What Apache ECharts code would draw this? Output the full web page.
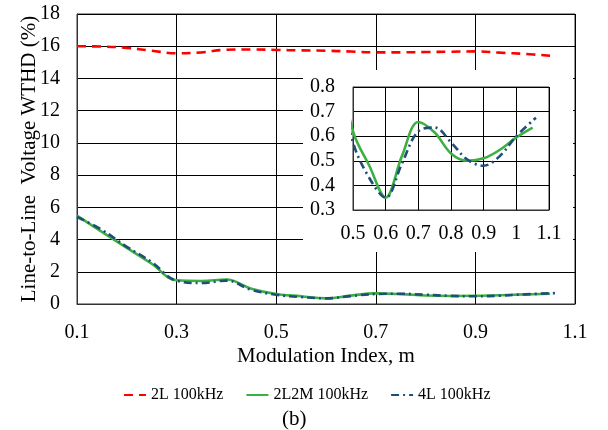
<!DOCTYPE html>
<html>
<head>
<meta charset="utf-8">
<script src="https://cdn.jsdelivr.net/npm/echarts@6/dist/echarts.min.js"></script>
<style>
  html, body { margin: 0; padding: 0; background: #fff; }
  #chart { width: 608px; height: 430px; }
</style>
</head>
<body>
<div id="chart"></div>
<script>
// Modulation index samples
const mIndex = [0.1, 0.15, 0.2, 0.25, 0.3, 0.35, 0.4, 0.45, 0.5, 0.55,
                0.6, 0.65, 0.7, 0.75, 0.8, 0.85, 0.9, 0.95, 1.0, 1.05];
const mIndex4L = [0.1, 0.15, 0.2, 0.25, 0.3, 0.35, 0.4, 0.45, 0.5, 0.55,
                  0.6, 0.65, 0.7, 0.75, 0.8, 0.85, 0.9, 0.95, 1.0, 1.06];

// Line-to-line voltage WTHD (%)
const wthd2L = [16.0, 15.98, 15.9, 15.72, 15.56, 15.62, 15.78, 15.8, 15.77, 15.74,
                15.72, 15.67, 15.62, 15.62, 15.64, 15.66, 15.68, 15.6, 15.52, 15.41];
const wthd2L2M = [5.48, 4.48, 3.48, 2.5, 1.47, 1.43, 1.52, 0.95, 0.62, 0.48,
                  0.35, 0.52, 0.658, 0.615, 0.53, 0.5, 0.51, 0.545, 0.595, 0.635];
const wthd4L = [5.4, 4.6, 3.55, 2.6, 1.45, 1.3, 1.45, 0.88, 0.575, 0.43,
                0.35, 0.49, 0.62, 0.635, 0.575, 0.505, 0.48, 0.52, 0.60, 0.675];

const seriesNames = ['2L 100kHz', '2L2M 100kHz', '4L 100kHz'];
const seriesColors = ['#ff0000', '#3cb043', '#1f4e79'];

// Axis settings
const mainXTicks = { min: 0.1, max: 1.1, interval: 0.2 };
const mainYTicks = { min: 0, max: 18, interval: 2 };
const insetXTicks = { min: 0.5, max: 1.1, interval: 0.1 };
const insetYTicks = { min: 0.3, max: 0.8, interval: 0.1 };

const FONT = "'Liberation Serif', 'Times New Roman', serif";
const pairs = (xs, ys) => xs.map((x, i) => [x, ys[i]]);
const fmt1 = v => String(+(+v).toFixed(1));

const lineStyles = [
  { color: seriesColors[0], width: 2.6, type: [9, 6] },
  { color: seriesColors[1], width: 2.6, type: 'solid' },
  { color: seriesColors[2], width: 2.6, type: [8, 4, 2, 4] }
];
const dataSets = [pairs(mIndex, wthd2L), pairs(mIndex, wthd2L2M), pairs(mIndex4L, wthd4L)];

const series = [];
dataSets.forEach((d, i) => {
  series.push({
    name: seriesNames[i], type: 'line', xAxisIndex: 0, yAxisIndex: 0,
    data: d, smooth: 0.4, symbol: 'none', lineStyle: lineStyles[i],
    itemStyle: { color: seriesColors[i] }, z: 3
  });
});
// Inset: zoomed view of the multilevel curves
[1, 2].forEach(i => {
  series.push({
    name: seriesNames[i], type: 'line', xAxisIndex: 1, yAxisIndex: 1,
    data: dataSets[i], smooth: 0.35, symbol: 'none', lineStyle: lineStyles[i],
    itemStyle: { color: seriesColors[i] }, z: 12, clip: true
  });
});

const axisLabel = { color: '#000', fontFamily: FONT, fontSize: 20 };
const split = { show: true, lineStyle: { color: '#000', width: 1 } };

const chart = echarts.init(document.getElementById('chart'), null, { renderer: 'canvas' });
chart.setOption({
  animation: false,
  backgroundColor: '#fff',
  grid: [
    { left: 77, top: 14, width: 498, height: 290, show: true, borderColor: '#333', borderWidth: 1, containLabel: false },
    { left: 353, top: 87, width: 196, height: 123, show: true, borderColor: '#333', borderWidth: 1, z: 10, containLabel: false }
  ],
  xAxis: [
    {
      type: 'value', gridIndex: 0, ...mainXTicks,
      axisLine: { show: true, lineStyle: { color: '#333' } }, axisTick: { show: false },
      axisLabel: { ...axisLabel, margin: 19, formatter: fmt1 }, splitLine: split,
      name: 'Modulation Index, m', nameLocation: 'middle', nameGap: 42, nameMoveOverlap: false,
      nameTextStyle: { color: '#000', fontFamily: FONT, fontSize: 21 }
    },
    {
      type: 'value', gridIndex: 1, ...insetXTicks, z: 10,
      axisLine: { show: true, lineStyle: { color: '#333' } }, axisTick: { show: false },
      axisLabel: { ...axisLabel, margin: 14, formatter: fmt1 }, splitLine: split
    }
  ],
  yAxis: [
    {
      type: 'value', gridIndex: 0, ...mainYTicks,
      axisLine: { show: true, lineStyle: { color: '#333' } }, axisTick: { show: false },
      axisLabel: { ...axisLabel, margin: 17 }, splitLine: split,
      name: 'Line-to-Line  Voltage WTHD (%)', nameLocation: 'middle', nameGap: 37, nameMoveOverlap: false,
      nameTextStyle: { color: '#000', fontFamily: FONT, fontSize: 21 }
    },
    {
      type: 'value', gridIndex: 1, ...insetYTicks, z: 10,
      axisLine: { show: true, lineStyle: { color: '#333' } }, axisTick: { show: false },
      axisLabel: { ...axisLabel, margin: 18, formatter: fmt1 }, splitLine: split
    }
  ],
  legend: {
    data: seriesNames,
    left: 118, top: 382,
    itemWidth: 22, itemHeight: 10, itemGap: 22,
    itemStyle: { opacity: 0 },
    textStyle: { color: '#000', fontFamily: FONT, fontSize: 16 }
  },
  title: {
    text: '(b)', left: 282, top: 409, padding: 0,
    textStyle: { color: '#000', fontFamily: FONT, fontSize: 21, fontWeight: 'normal' }
  },
  graphic: {
    elements: [{
      type: 'rect', z: 5, silent: true,
      shape: { x: 303, y: 70, width: 270, height: 182 },
      style: { fill: '#fff' }
    }]
  },
  series: series
});
</script>
</body>
</html>
